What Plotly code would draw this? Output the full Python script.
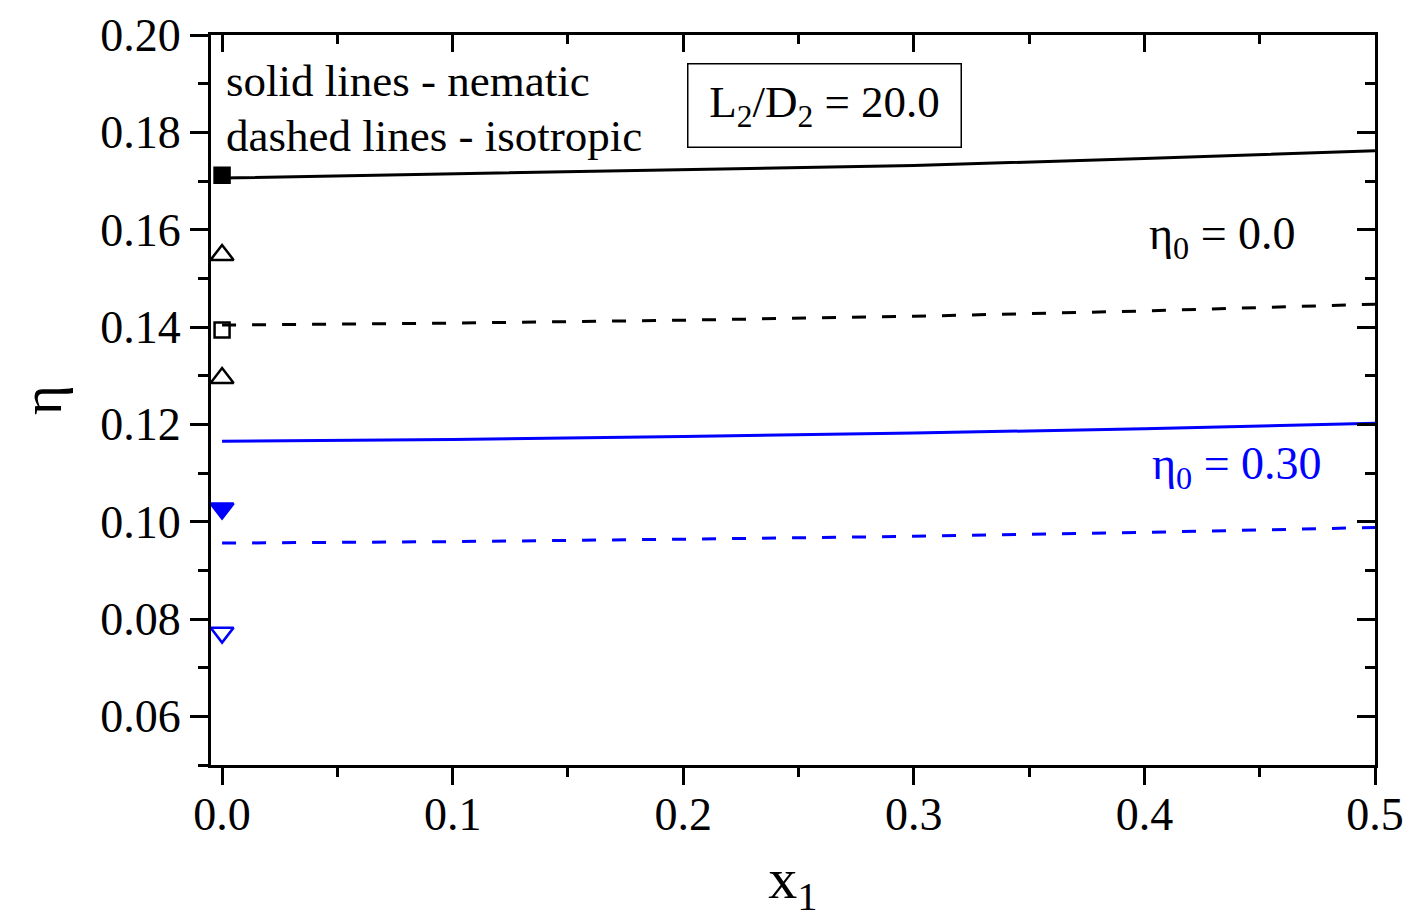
import plotly.graph_objects as go

# ---- data ----
x_line = [0.0, 0.1, 0.2, 0.3, 0.4, 0.5]
eta0_00_nematic = [0.1706, 0.1715, 0.1723, 0.1732, 0.1746, 0.1762]
eta0_00_isotropic = [0.1404, 0.1408, 0.1414, 0.1422, 0.1433, 0.1447]
eta0_30_nematic = [0.1165, 0.1169, 0.1175, 0.1182, 0.1191, 0.1202]
eta0_30_isotropic = [0.0956, 0.0959, 0.0964, 0.0970, 0.0978, 0.0988]

x_pts = [0.0]
pt_black_filled_square = [0.1712]
pt_black_open_tri_hi = [0.1548]
pt_black_open_square = [0.1394]
pt_black_open_tri_lo = [0.1295]
pt_blue_filled_tri_down = [0.1027]
pt_blue_open_tri_down = [0.0772]

x_range = [-0.0048, 0.5]
y_range = [0.05, 0.20]

BLUE = "#0000FF"
FONT = "Liberation Serif"

fig = go.Figure()

def line(y, color, dash):
    fig.add_trace(go.Scatter(x=x_line, y=y, mode="lines",
                             line=dict(color=color, width=3, dash=dash),
                             showlegend=False, hoverinfo="skip"))

line(eta0_00_nematic, "black", "solid")
line(eta0_00_isotropic, "black", "14px,16px")
line(eta0_30_nematic, BLUE, "solid")
line(eta0_30_isotropic, BLUE, "14px,16px")

def pt(y, symbol, color, size):
    fig.add_trace(go.Scatter(x=x_pts, y=y, mode="markers",
                             marker=dict(symbol=symbol, size=size, color=color,
                                         line=dict(color=color, width=2.5)),
                             showlegend=False, hoverinfo="skip"))

pt(pt_black_filled_square, "square", "black", 15)
pt(pt_black_open_tri_hi, "triangle-up-open", "black", 20)
pt(pt_black_open_square, "square-open", "black", 15)
pt(pt_black_open_tri_lo, "triangle-up-open", "black", 20)
pt(pt_blue_filled_tri_down, "triangle-down", BLUE, 20)
pt(pt_blue_open_tri_down, "triangle-down-open", BLUE, 20)

# invisible trace to activate mirror axes
fig.add_trace(go.Scatter(x=[0.25], y=[0.1], xaxis="x2", yaxis="y2", mode="lines",
                         showlegend=False, hoverinfo="skip", line=dict(width=0)))

tickfont = dict(family=FONT, size=46, color="black")

fig.update_layout(
    width=1411, height=919,
    margin=dict(l=211, r=36, t=35, b=154),
    paper_bgcolor="white", plot_bgcolor="white",
    font=dict(family=FONT, color="black"),
    xaxis=dict(range=x_range, dtick=0.1, tick0=0, tickformat=".1f",
               showgrid=False, zeroline=False, automargin=False,
               showline=True, linecolor="black", linewidth=3,
               ticks="outside", ticklen=17, tickwidth=3, tickcolor="black",
               minor=dict(dtick=0.05, tick0=0, ticks="outside", ticklen=9, tickwidth=3, tickcolor="black"),
               tickfont=tickfont, ticklabelstandoff=-10,
               title=dict(text="x<sub>1</sub>", font=dict(family=FONT, size=58), standoff=20)),
    yaxis=dict(range=y_range, dtick=0.02, tick0=0, tickformat=".2f",
               showgrid=False, zeroline=False, automargin=False,
               showline=True, linecolor="black", linewidth=3,
               ticks="outside", ticklen=18, tickwidth=3, tickcolor="black",
               minor=dict(dtick=0.01, tick0=0, ticks="outside", ticklen=10, tickwidth=3, tickcolor="black"),
               tickfont=tickfont, ticklabelstandoff=0,
               title=dict(text="η", font=dict(family=FONT, size=58), standoff=20)),
    xaxis2=dict(range=x_range, overlaying="x", side="top", anchor="y",
                dtick=0.1, tick0=0, showticklabels=False, showgrid=False, zeroline=False,
                showline=True, linecolor="black", linewidth=3, automargin=False,
                ticks="inside", ticklen=17, tickwidth=3, tickcolor="black",
                minor=dict(dtick=0.05, tick0=0, ticks="inside", ticklen=9, tickwidth=3, tickcolor="black")),
    yaxis2=dict(range=y_range, overlaying="y", side="right", anchor="x",
                dtick=0.02, tick0=0, showticklabels=False, showgrid=False, zeroline=False,
                showline=True, linecolor="black", linewidth=3, automargin=False,
                ticks="inside", ticklen=18, tickwidth=3, tickcolor="black",
                minor=dict(dtick=0.01, tick0=0, ticks="inside", ticklen=10, tickwidth=3, tickcolor="black")),
)

annfont = dict(family=FONT, size=45, color="black")
fig.add_annotation(x=0.001, y=0.1905, xref="x", yref="y", text="solid lines - nematic",
                   showarrow=False, xanchor="left", yanchor="middle", font=annfont)
fig.add_annotation(x=0.001, y=0.1792, xref="x", yref="y", text="dashed lines - isotropic",
                   showarrow=False, xanchor="left", yanchor="middle", font=annfont)
fig.add_annotation(x=0.2611, y=0.1855, xref="x", yref="y",
                   text="L<sub>2</sub>/D<sub>2</sub> = 20.0",
                   showarrow=False, xanchor="center", yanchor="middle", font=annfont,
                   width=270, height=80, bordercolor="black", borderwidth=1.5, borderpad=1,
                   bgcolor="white")
fig.add_annotation(x=0.401, y=0.1585, xref="x", yref="y", text="η<sub>0</sub> = 0.0",
                   showarrow=False, xanchor="left", yanchor="middle",
                   font=dict(family=FONT, size=46, color="black"))
fig.add_annotation(x=0.4024, y=0.1112, xref="x", yref="y", text="η<sub>0</sub> = 0.30",
                   showarrow=False, xanchor="left", yanchor="middle",
                   font=dict(family=FONT, size=46, color=BLUE))

fig.write_html("out.html")
